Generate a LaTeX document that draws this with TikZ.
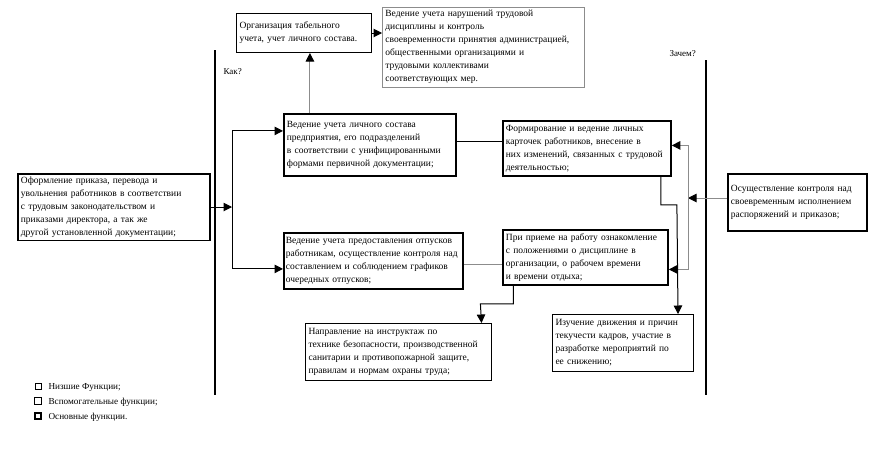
\documentclass[tikz,border=0pt]{standalone}
\usepackage{fontspec}
\setmainfont{Liberation Serif}
\usepackage{tikz}
\usetikzlibrary{arrows.meta,positioning,calc}
\definecolor{kadrline}{HTML}{000000}
\definecolor{kadrgray}{HTML}{8C8C8C}
\tikzstyle{mainbox} = [rectangle, draw=kadrline, line width=1.8pt, fill=white,
    anchor=north west, align=left, inner sep=3pt, font=\fontsize{9.5}{13}\selectfont]
\tikzstyle{auxbox} = [rectangle, draw=kadrline, line width=1pt, fill=white,
    anchor=north west, align=left, inner sep=3pt, font=\fontsize{9.5}{13}\selectfont]
\tikzstyle{lowbox} = [rectangle, draw=kadrgray, line width=0.7pt, fill=white,
    anchor=north west, align=left, inner sep=3pt, font=\fontsize{9.5}{13}\selectfont]
\tikzstyle{arrow} = [-{Triangle[length=8.5pt,width=8.5pt,color=kadrline]}, line width=1pt, kadrline]
\tikzstyle{link} = [line width=1pt, kadrline]
\tikzstyle{axis} = [line width=2pt, kadrline]
\tikzstyle{legsq} = [rectangle, draw=kadrline, minimum size=6.5pt, inner sep=0pt]

\begin{document}
\begin{tikzpicture}[x=1pt, y=-1pt]
\useasboundingbox (0,0) rectangle (891,448);

% left column
\node[mainbox, text width=186pt, minimum height=64pt] (oform) at (17,173)
  {Оформление приказа, перевода и\\увольнения работников в соответствии\\с трудовым законодательством и\\приказами директора, а так же\\другой установленной документации;};
\draw[axis] (215,50) -- (215,395);
\node[anchor=west, font=\fontsize{9}{10}\selectfont] (kaklbl) at (220,72) {Как?};

% middle column
\node[auxbox, text width=129pt, minimum height=39pt] (tabel) at (236,13)
  {Организация табельного\\учета, учет личного состава.};
\node[lowbox, text width=196pt, minimum height=78pt] (narush) at (382,7)
  {Ведение учета нарушений трудовой\\ дисциплины и контроль\\своевременности принятия администрацией,\\общественными организациями и\\трудовыми коллективами\\соответствующих мер.};
\node[mainbox, text width=166pt, minimum height=62pt] (lichsost) at (283,113)
  {Ведение учета личного состава\\предприятия, его подразделений\\ в соответствии с унифицированными\\формами первичной документации;};
\node[mainbox, text width=175pt, inner xsep=2pt, minimum height=56pt] (otpusk) at (283,232)
  {Ведение учета предоставления отпусков\\работникам, осуществление контроля над\\составлением и соблюдением графиков\\очередных отпусков;};
\node[auxbox, text width=180pt, minimum height=57pt] (instr) at (305,323)
  {Направление на инструктаж по\\технике безопасности, производственной\\ санитарии и противопожарной защите,\\правилам и нормам охраны труда;};

% right column
\node[mainbox, text width=162pt, minimum height=55pt] (kartoch) at (502,120)
  {Формирование и ведение личных\\ карточек работников, внесение в\\них изменений, связанных с трудовой\\ деятельностью;};
\node[mainbox, text width=159pt, minimum height=55pt] (priem) at (502,229)
  {При приеме на работу ознакомление\\ с положениями о дисциплине в\\организации, о рабочем времени\\ и времени отдыха;};
\node[auxbox, text width=135pt, minimum height=57pt] (izuch) at (552,314)
  {Изучение движения и причин\\текучести кадров, участие в\\разработке мероприятий по\\ ее снижению;};
\node[mainbox, text width=133pt, minimum height=57pt] (kontrol) at (727,173)
  {Осуществление контроля над\\своевременным исполнением\\распоряжений и приказов;};
\draw[axis] (706,60) -- (706,395);
\node[anchor=west, font=\fontsize{9}{10}\selectfont] (zachemlbl) at (666,54) {Зачем?};

% junction points
\coordinate (kak) at (232,207);
\coordinate (zachem) at (688,198);

% connectors
\draw[arrow] (oform.east |- kak) -- (kak);
\draw[arrow] (kak) |- ([yshift=14pt]lichsost.west);
\draw[arrow] (kak) |- ([yshift=-8pt]otpusk.west);
\draw[arrow, kadrgray] ([xshift=-60pt]lichsost.north) -- ([xshift=-60pt]lichsost.north |- tabel.south);
\draw[arrow] (tabel.east) -- (tabel.east -| narush.west);
\draw[link] ([yshift=3pt]lichsost.east) -- ([yshift=3pt]lichsost.east -| kartoch.west);
\draw[link, kadrgray] ([yshift=-4pt]otpusk.east) -- ([yshift=-4pt]otpusk.east -| priem.west);
\draw[arrow, kadrgray] (kontrol.west |- zachem) -- (zachem);
\draw[arrow, kadrgray] (zachem) |- ([yshift=3pt]kartoch.east);
\draw[arrow, kadrgray] (zachem) |- ([yshift=-12pt]priem.east);
\draw[arrow] ([xshift=-72pt]priem.south) |- ++(-33,18) -- ([xshift=83pt]instr.north);
\draw[arrow] ([xshift=74pt]kartoch.south) |- ++(16,28) -- ([xshift=55pt]izuch.north);

% legend
\node[legsq, line width=0.5pt] (lowsq) at (38,386) {};
\node[anchor=west, font=\fontsize{9.2}{10}\selectfont] (lowtxt) at (45,387) {Низшие Функции;};
\node[legsq, line width=1pt] (auxsq) at (38,401) {};
\node[anchor=west, font=\fontsize{9.2}{10}\selectfont] (auxtxt) at (45,402) {Вспомогательные функции;};
\node[legsq, line width=1.8pt] (mainsq) at (38,416) {};
\node[anchor=west, font=\fontsize{9.2}{10}\selectfont] (maintxt) at (45,417) {Основные функции.};

\end{tikzpicture}
\end{document}
